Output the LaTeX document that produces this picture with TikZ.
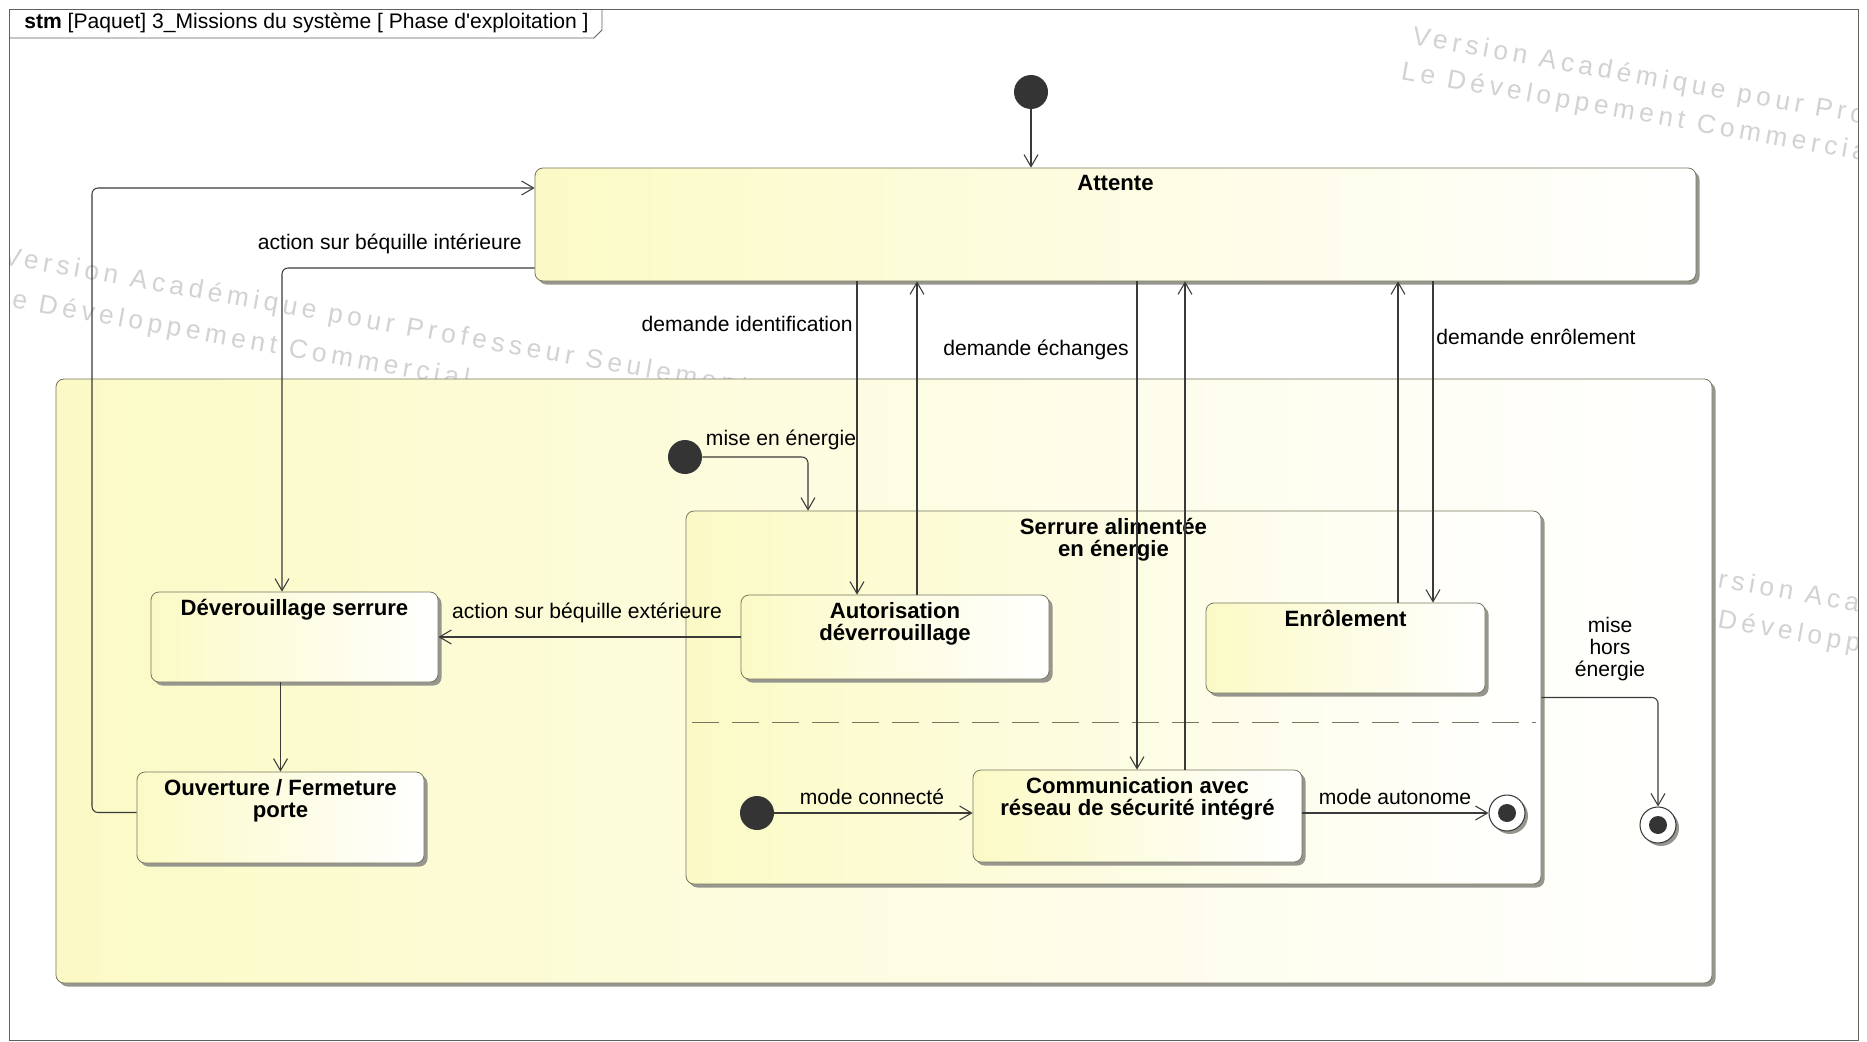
\documentclass[tikz,border=0pt]{standalone}
\usepackage{fontspec}
\setmainfont{Liberation Sans}
\newfontfamily\wmfont{Liberation Sans}[LetterSpace=18]
\usetikzlibrary{arrows.meta,shadows}

\definecolor{stateyellow}{RGB}{251,250,198}
\definecolor{stateline}{RGB}{118,118,96}
\definecolor{shadowgray}{RGB}{150,150,142}
\definecolor{transline}{RGB}{58,58,58}
\definecolor{pseudofill}{RGB}{52,52,52}
\definecolor{framegray}{RGB}{96,96,96}
\definecolor{wmgray}{RGB}{210,210,210}

\newcommand{\titlefont}{\fontsize{12.6}{12.5}\selectfont\bfseries}
\newcommand{\lblfont}{\fontsize{12}{12.5}\selectfont}

\tikzset{
  umlstate/.style={draw=stateline, line width=0.45pt, rounded corners=1.6mm,
    left color=stateyellow, right color=white, inner sep=0pt,
    drop shadow={shadow xshift=0.7mm, shadow yshift=-0.7mm, fill=shadowgray, opacity=1}},
  statetitle/.style={anchor=north, font=\titlefont, align=center, inner sep=0pt, yshift=-1.5mm},
  initstate/.style={circle, fill=pseudofill, inner sep=0pt, minimum size=6.8mm},
  finalstate/.style={circle, draw=transline, line width=0.6pt, fill=white, inner sep=0pt,
    minimum size=7.2mm,
    drop shadow={shadow xshift=0.6mm, shadow yshift=-0.6mm, fill=shadowgray, opacity=1},
    path picture={\fill[pseudofill] (path picture bounding box.center) circle (1.8mm);}},
  trans/.style={draw=transline, line width=0.6pt, rounded corners=1.2mm,
    -{Straight Barb[length=2.4mm, width=2.8mm]}},
  translabel/.style={font=\lblfont, inner sep=0pt},
  region/.style={draw=stateline, line width=0.5pt, dash pattern=on 5.4mm off 2.6mm},
  watermark/.style={font=\wmfont\fontsize{15}{15}\selectfont, text=wmgray, rotate=-10,
    inner sep=0pt, anchor=base west}
}

\begin{document}
\begin{tikzpicture}[x=0.2mm, y=-0.2mm]
            \fill[white] (0,0) rectangle (1867,1042);%
            \useasboundingbox (0,0) rectangle (1867,1042);%

            % Watermarks behind everything
            \begin{scope}
            \clip (9,9) rectangle (1858,1040);%
            \node (wmtopa) [watermark] at (1411,44) {Version Académique pour Professeur};%
            \node (wmtopb) [watermark] at (1400,79) {Le Développement Commercial};%
            \node (wmlefta) [watermark] at (2,264) {Version Académique pour Professeur Seulement};%
            \node (wmleftb) [watermark] at (-8,304) {Le Développement Commercial};%
            \node (wmrighta) [watermark] at (1677,580) {Version Académique};%
            \node (wmrightb) [watermark] at (1671,619) {Le Développement};%
            \end{scope}

            % Drawing frame with its tab
            \draw [framegray, line width=0.5pt] (9,9) rectangle (1858,1040);%
            \draw [framegray, line width=0.5pt] (9,38) -- (594,38) -- (602,30) -- (602,9);%
            \node (frametitle) [translabel, anchor=west] at (24,23) {\textbf{stm} [Paquet] 3\_Missions du système [ Phase d\textquotesingle exploitation ]};%

            % Marking state Attente
            \node (attente) [umlstate, minimum width=232.2mm, minimum height=22.6mm] at (1115.5,224.5) {};%
            \node (tattente) [statetitle] at (attente.north) {Attente};%

            % Marking big composite state
            \node (phase) [umlstate, minimum width=331.2mm, minimum height=120.8mm] at (884,681) {};%

            % Marking state Serrure alimentee with its two regions
            \node (serrure) [umlstate, minimum width=171mm, minimum height=74.6mm] at (1113.5,697.5) {};%
            \node (tserrure) [statetitle] at (serrure.north) {Serrure alimentée\\en énergie};%
            \coordinate (sep) at (0,722);%
            \draw [region] ([xshift=1.2mm]serrure.west |- sep) -- ([xshift=-1mm]serrure.east |- sep);%

            % Marking simple states
            \node (deverr) [umlstate, minimum width=57.4mm, minimum height=18mm] at (294.5,637) {};%
            \node (tdeverr) [statetitle] at (deverr.north) {Déverouillage serrure};%
            \node (ouvert) [umlstate, minimum width=57.4mm, minimum height=18.2mm] at (280.5,817.5) {};%
            \node (touvert) [statetitle] at (ouvert.north) {Ouverture / Fermeture\\porte};%
            \node (autor) [umlstate, minimum width=61.6mm, minimum height=16.8mm] at (895,637) {};%
            \node (tautor) [statetitle] at (autor.north) {Autorisation\\déverrouillage};%
            \node (enrol) [umlstate, minimum width=55.8mm, minimum height=18mm] at (1345.5,648) {};%
            \node (tenrol) [statetitle] at (enrol.north) {Enrôlement};%
            \node (comm) [umlstate, minimum width=65.8mm, minimum height=18.4mm] at (1137.5,816) {};%
            \node (tcomm) [statetitle] at (comm.north) {Communication avec\\réseau de sécurité intégré};%

            % Marking pseudo states
            \node (init) [initstate] at (1031,92) {};%
            \node (init2) [initstate] at (685,457) {};%
            \node (init3) [initstate] at (757,813) {};%
            \node (fin1) [finalstate] at (1507,813) {};%
            \node (fin2) [finalstate] at (1658,825) {};%

            % Columns and bends of the transitions
            \coordinate (xident) at (857,0);%
            \coordinate (xauth) at (917,0);%
            \coordinate (xechg) at (1137,0);%
            \coordinate (xcomm) at (1185,0);%
            \coordinate (xenrup) at (1398,0);%
            \coordinate (xenrdn) at (1433,0);%
            \coordinate (xpower) at (808,0);%
            \coordinate (loop) at (92,188);%
            \coordinate (inner) at (282,268);%

            % Drawing transitions
            \draw [trans] (init) -- (attente.north -| init);%
            \draw [trans] ([yshift=1mm]ouvert.west) -| (loop) -- (attente.west |- loop);%
            \draw [trans] (attente.west |- inner) -- (inner) -- (deverr.north -| inner);%
            \draw [trans] (autor.west) -- (deverr.east |- autor.west);%
            \draw [trans] (deverr.south -| ouvert.north) -- (ouvert.north);%
            \draw [trans] (attente.south -| xident) -- (autor.north -| xident);%
            \draw [trans] (autor.north -| xauth) -- (attente.south -| xauth);%
            \draw [trans] (attente.south -| xechg) -- (comm.north -| xechg);%
            \draw [trans] (comm.north -| xcomm) -- (attente.south -| xcomm);%
            \draw [trans] (enrol.north -| xenrup) -- (attente.south -| xenrup);%
            \draw [trans] (attente.south -| xenrdn) -- (enrol.north -| xenrdn);%
            \draw [trans] (init2.east) -| (serrure.north -| xpower);%
            \draw [trans] (init3) -- (comm.west |- init3);%
            \draw [trans] (comm.east |- fin1) -- (fin1);%
            \draw [trans] (serrure.east) -| (fin2.north);%

            % Marking transition labels
            \node (lblint) [translabel, anchor=east] at (522,244) {action sur béquille intérieure};%
            \node (lblext) [translabel] at (587,613) {action sur béquille extérieure};%
            \node (lblident) [translabel, anchor=east] at (853,324) {demande identification};%
            \node (lblechg) [translabel] at (1036,350) {demande échanges};%
            \node (lblenr) [translabel] at (1536,337) {demande enrôlement};%
            \node (lblpow) [translabel] at (781,440) {mise en énergie};%
            \node (lbloff) [translabel, align=center] at (1610,649) {mise\\hors\\énergie};%
            \node (lblconn) [translabel] at (872,797) {mode connecté};%
            \node (lblauto) [translabel] at (1395,797) {mode autonome};%
\end{tikzpicture}
\end{document}
